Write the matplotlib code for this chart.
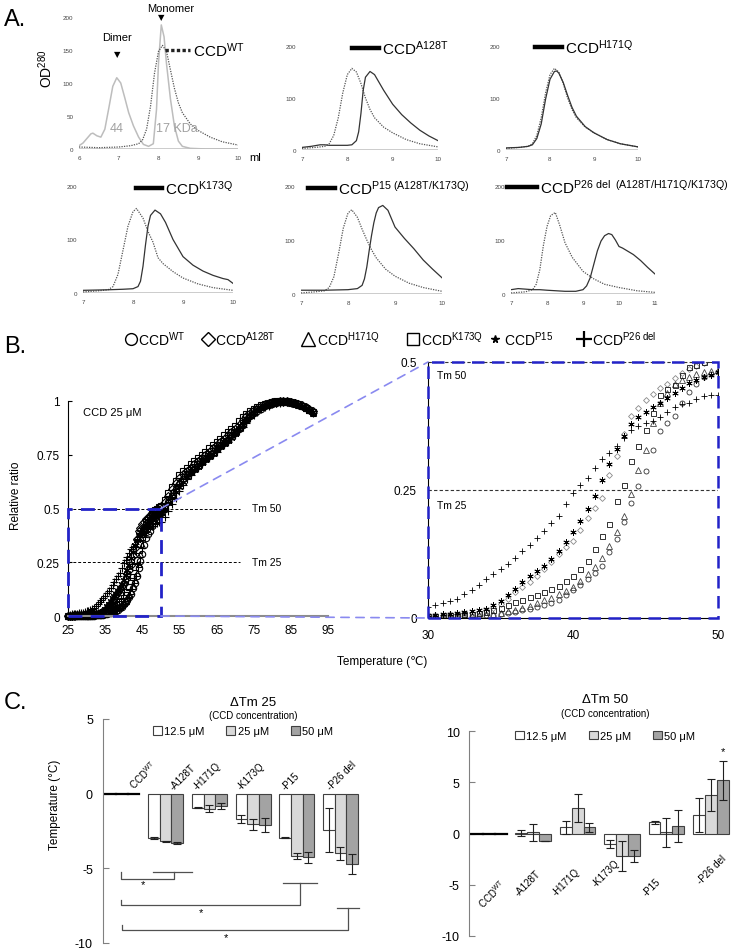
import matplotlib
matplotlib.use("Agg")
import matplotlib.pyplot as plt
from matplotlib.lines import Line2D
from matplotlib.patches import Rectangle, Patch, ConnectionPatch

plt.rcParams["font.family"] = ["Liberation Sans", "DejaVu Sans"]
plt.rcParams["mathtext.fontset"] = "custom"
plt.rcParams["mathtext.rm"] = "Liberation Sans"
plt.rcParams["mathtext.it"] = "Liberation Sans:italic"
plt.rcParams["mathtext.bf"] = "Liberation Sans:bold"
plt.rcParams["axes.unicode_minus"] = False

# ---------------- A. size exclusion profiles (ml, OD280) ----------------
std_x = [6.0, 6.1, 6.2, 6.3, 6.35, 6.45, 6.55, 6.65, 6.75, 6.85, 6.95, 7.05, 7.15, 7.25, 7.37, 7.5, 7.62,
         7.75, 7.87, 7.95, 8.0, 8.07, 8.14, 8.2, 8.3, 8.4, 8.5, 8.6, 8.8, 9.2, 10.0]
std_y = [5, 9, 16, 23, 24, 20, 18, 30, 62, 95, 108, 100, 78, 55, 35, 18, 7,
         4, 8, 60, 130, 188, 170, 130, 76, 35, 12, 4, 1, 0, 0]
wt0_x = [6.0, 6.5, 7.0, 7.3, 7.5, 7.6, 7.7, 7.8, 7.9, 8.0, 8.1, 8.2, 8.3, 8.4, 8.5, 8.6, 8.8, 9.0, 9.3, 9.6, 10.0]
wt0_y = [3, 2, 3, 5, 8, 14, 30, 65, 115, 148, 157, 148, 120, 92, 70, 55, 38, 28, 18, 11, 6]

wt1_x = [7.0, 7.3, 7.5, 7.6, 7.7, 7.8, 7.9, 8.0, 8.1, 8.2, 8.3, 8.4, 8.5, 8.6, 8.8, 9.0, 9.3, 9.6, 10.0]
wt1_y = [3, 5, 7, 12, 28, 62, 110, 145, 157, 150, 128, 100, 78, 62, 44, 33, 20, 12, 6]
a128t_x = [7.0, 7.2, 7.4, 7.5, 7.6, 7.8, 8.0, 8.1, 8.2, 8.25, 8.3, 8.35, 8.4, 8.5, 8.6, 8.7, 8.8, 9.0,
           9.2, 9.4, 9.6, 9.8, 10.0]
a128t_y = [5, 7, 10, 10, 9, 9, 9, 10, 18, 35, 70, 115, 140, 151, 145, 130, 115, 88, 68, 52, 38, 27, 18]

wt2_x = wt1_x
wt2_y = [3, 5, 7, 12, 28, 62, 110, 145, 157, 150, 128, 100, 78, 62, 44, 33, 20, 12, 6]
h171q_x = [7.0, 7.3, 7.5, 7.6, 7.7, 7.8, 7.9, 8.0, 8.1, 8.15, 8.2, 8.3, 8.4, 8.5, 8.6, 8.8, 9.0, 9.3, 9.6, 10.0]
h171q_y = [4, 5, 7, 10, 22, 50, 98, 136, 151, 152, 148, 130, 105, 82, 65, 45, 33, 20, 12, 6]

wt3_x = [7.0, 7.3, 7.5, 7.6, 7.7, 7.8, 7.9, 8.0, 8.07, 8.2, 8.3, 8.4, 8.5, 8.6, 8.8, 9.0, 9.3, 9.6, 10.0]
wt3_y = [2, 4, 6, 12, 35, 80, 125, 152, 158, 140, 115, 95, 66, 55, 40, 28, 17, 10, 5]
k173q_x = [7.0, 7.5, 7.8, 8.0, 8.1, 8.15, 8.2, 8.25, 8.3, 8.35, 8.44, 8.55, 8.65, 8.8, 9.0, 9.2, 9.4,
           9.6, 9.8, 9.9, 10.0]
k173q_y = [5, 6, 7, 8, 12, 22, 50, 90, 125, 145, 155, 148, 132, 100, 68, 52, 41, 33, 27, 25, 18]

wt4_x = [7.0, 7.3, 7.5, 7.6, 7.7, 7.8, 7.9, 8.0, 8.08, 8.2, 8.3, 8.4, 8.5, 8.6, 8.8, 9.0, 9.3, 9.6, 10.0]
wt4_y = [2, 4, 6, 12, 32, 75, 122, 150, 156, 142, 120, 100, 82, 67, 46, 33, 20, 12, 5]
p15_x = [7.0, 7.5, 8.0, 8.2, 8.3, 8.35, 8.4, 8.45, 8.5, 8.55, 8.6, 8.65, 8.74, 8.85, 9.0, 9.2, 9.4,
         9.6, 9.8, 10.0]
p15_y = [7, 7, 8, 10, 16, 28, 50, 80, 108, 132, 150, 160, 164, 155, 124, 103, 84, 63, 46, 30]

wt5_x = [7.0, 7.4, 7.6, 7.7, 7.8, 7.9, 8.0, 8.1, 8.23, 8.35, 8.5, 8.7, 9.0, 9.3, 9.6, 10.0, 10.5, 11.0]
wt5_y = [2, 4, 8, 18, 45, 90, 125, 145, 151, 128, 95, 68, 42, 28, 18, 12, 6, 3]
p26_x = [7.0, 7.2, 7.4, 7.6, 7.8, 8.0, 8.5, 8.8, 9.0, 9.1, 9.2, 9.3, 9.4, 9.5, 9.6, 9.71, 9.8, 9.9,
         10.0, 10.1, 10.2, 10.4, 10.6, 10.8, 11.0]
p26_y = [8, 10, 9, 8, 8, 7, 5, 5, 8, 15, 30, 55, 80, 98, 108, 112, 110, 100, 88, 85, 81, 73, 62, 49, 37]

# ---------------- B. thermal unfolding (relative ratio) ----------------
temp = [25.0, 25.5, 26.0, 26.5, 27.0, 27.5, 28.0, 28.5, 29.0, 29.5,
        30.0, 30.5, 31.0, 31.5, 32.0, 32.5, 33.0, 33.5, 34.0, 34.5,
        35.0, 35.5, 36.0, 36.5, 37.0, 37.5, 38.0, 38.5, 39.0, 39.5,
        40.0, 40.5, 41.0, 41.5, 42.0, 42.5, 43.0, 43.5, 44.0, 44.5,
        45.0, 45.5, 46.0, 46.5, 47.0, 47.5, 48.0, 48.5, 49.0, 49.5, 50.0,
        51, 52, 53, 54, 55, 56, 57, 58, 59, 60, 61, 62, 63, 64, 65, 66, 67, 68, 69, 70,
        71, 72, 73, 74, 75, 76, 77, 78, 79, 80, 81, 82, 83, 84, 85, 86, 87, 88, 89, 90, 91]
ratio_wt = [0.001, 0.001, 0.002, 0.002, 0.002, 0.002, 0.002, 0.002, 0.002, 0.002,
            0.002, 0.002, 0.002, 0.002, 0.002, 0.003, 0.003, 0.004, 0.005, 0.006,
            0.008, 0.010, 0.012, 0.015, 0.018, 0.021, 0.025, 0.030, 0.036, 0.044,
            0.054, 0.064, 0.076, 0.088, 0.102, 0.128, 0.154, 0.187, 0.225, 0.258,
            0.287, 0.329, 0.365, 0.380, 0.394, 0.420, 0.442, 0.458, 0.471, 0.476, 0.480,
            0.50, 0.53, 0.56, 0.59, 0.615, 0.635, 0.655, 0.67, 0.685, 0.70,
            0.715, 0.73, 0.745, 0.76, 0.775, 0.79, 0.805, 0.82, 0.835, 0.85,
            0.87, 0.89, 0.91, 0.93, 0.945, 0.955, 0.965, 0.975, 0.982, 0.988,
            0.992, 0.995, 0.997, 0.997, 0.995, 0.99, 0.985, 0.978, 0.97, 0.96, 0.95]
ratio_a128t = [0.002, 0.002, 0.002, 0.003, 0.003, 0.003, 0.003, 0.004, 0.004, 0.004,
               0.005, 0.005, 0.006, 0.007, 0.008, 0.009, 0.010, 0.012, 0.015, 0.020,
               0.028, 0.038, 0.050, 0.060, 0.070, 0.083, 0.096, 0.110, 0.125, 0.138,
               0.151, 0.172, 0.196, 0.215, 0.235, 0.280, 0.316, 0.360, 0.394, 0.410,
               0.426, 0.438, 0.449, 0.458, 0.468, 0.478, 0.487, 0.493, 0.498, 0.505, 0.510,
               0.53, 0.56, 0.59, 0.62, 0.64, 0.66, 0.675, 0.69, 0.705, 0.72,
               0.735, 0.75, 0.765, 0.78, 0.795, 0.81, 0.825, 0.84, 0.855, 0.87,
               0.89, 0.91, 0.93, 0.945, 0.958, 0.968, 0.977, 0.984, 0.99, 0.994,
               0.997, 0.999, 1.0, 0.999, 0.996, 0.992, 0.987, 0.98, 0.972, 0.962, 0.952]
ratio_h171q = [0.001, 0.001, 0.001, 0.001, 0.001, 0.001, 0.002, 0.002, 0.002, 0.002,
               0.002, 0.002, 0.002, 0.002, 0.003, 0.003, 0.004, 0.005, 0.006, 0.008,
               0.010, 0.013, 0.016, 0.020, 0.024, 0.029, 0.035, 0.040, 0.046, 0.053,
               0.060, 0.072, 0.086, 0.100, 0.118, 0.141, 0.167, 0.200, 0.242, 0.290,
               0.329, 0.381, 0.420, 0.440, 0.458, 0.465, 0.471, 0.476, 0.480, 0.482, 0.485,
               0.51, 0.54, 0.575, 0.605, 0.63, 0.65, 0.665, 0.68, 0.695, 0.71,
               0.725, 0.74, 0.755, 0.77, 0.785, 0.80, 0.815, 0.83, 0.845, 0.86,
               0.88, 0.90, 0.92, 0.94, 0.952, 0.962, 0.972, 0.98, 0.986, 0.991,
               0.994, 0.996, 0.997, 0.996, 0.993, 0.988, 0.982, 0.975, 0.966, 0.956, 0.945]
ratio_k173q = [0.002, 0.002, 0.002, 0.002, 0.003, 0.003, 0.003, 0.003, 0.003, 0.003,
               0.003, 0.004, 0.005, 0.005, 0.006, 0.007, 0.008, 0.010, 0.012, 0.015,
               0.020, 0.025, 0.031, 0.036, 0.041, 0.045, 0.050, 0.056, 0.063, 0.072,
               0.083, 0.096, 0.112, 0.135, 0.161, 0.183, 0.228, 0.259, 0.306, 0.335,
               0.368, 0.400, 0.436, 0.447, 0.455, 0.475, 0.490, 0.495, 0.500, 0.505, 0.510,
               0.54, 0.57, 0.60, 0.63, 0.655, 0.675, 0.69, 0.705, 0.72, 0.735,
               0.75, 0.765, 0.78, 0.795, 0.81, 0.825, 0.84, 0.855, 0.87, 0.885,
               0.905, 0.925, 0.94, 0.955, 0.965, 0.974, 0.981, 0.987, 0.992, 0.995,
               0.998, 1.0, 1.0, 0.998, 0.995, 0.99, 0.984, 0.977, 0.968, 0.958, 0.948]
ratio_p15 = [0.001, 0.001, 0.002, 0.002, 0.002, 0.003, 0.003, 0.003, 0.004, 0.004,
             0.005, 0.006, 0.007, 0.008, 0.010, 0.012, 0.014, 0.016, 0.018, 0.025,
             0.033, 0.045, 0.057, 0.070, 0.083, 0.092, 0.102, 0.116, 0.131, 0.148,
             0.167, 0.190, 0.212, 0.238, 0.270, 0.300, 0.330, 0.355, 0.378, 0.392,
             0.403, 0.412, 0.420, 0.430, 0.440, 0.450, 0.459, 0.465, 0.470, 0.475, 0.480,
             0.50, 0.525, 0.55, 0.575, 0.60, 0.625, 0.645, 0.665, 0.68, 0.695,
             0.71, 0.725, 0.74, 0.755, 0.77, 0.785, 0.80, 0.815, 0.83, 0.848,
             0.868, 0.888, 0.908, 0.928, 0.944, 0.956, 0.966, 0.975, 0.983, 0.989,
             0.993, 0.996, 0.997, 0.996, 0.994, 0.99, 0.984, 0.977, 0.969, 0.96, 0.95]
ratio_p26 = [0.005, 0.006, 0.007, 0.008, 0.009, 0.010, 0.012, 0.014, 0.016, 0.018,
             0.021, 0.025, 0.029, 0.033, 0.038, 0.046, 0.055, 0.065, 0.076, 0.085,
             0.095, 0.106, 0.118, 0.130, 0.143, 0.156, 0.170, 0.185, 0.200, 0.222,
             0.245, 0.260, 0.274, 0.292, 0.310, 0.322, 0.335, 0.352, 0.368, 0.375,
             0.381, 0.385, 0.392, 0.403, 0.413, 0.417, 0.420, 0.427, 0.433, 0.435, 0.436,
             0.46, 0.49, 0.52, 0.55, 0.58, 0.61, 0.635, 0.655, 0.675, 0.69,
             0.705, 0.72, 0.735, 0.75, 0.765, 0.78, 0.795, 0.81, 0.825, 0.84,
             0.86, 0.88, 0.90, 0.92, 0.937, 0.95, 0.961, 0.97, 0.978, 0.985,
             0.99, 0.993, 0.995, 0.995, 0.993, 0.989, 0.983, 0.976, 0.967, 0.957, 0.946]

# ---------------- C. delta Tm bars ----------------
groups = ["CCD$^{\\mathrm{WT}}$", "-A128T", "-H171Q", "-K173Q", "-P15", "-P26 del"]
conc_labels = ["12.5 μM", "25 μM", "50 μM"]
tm25 = [[0, -2.96, -0.95, -1.68, -2.96, -2.46],
        [0, -3.20, -1.00, -2.06, -4.16, -3.98],
        [0, -3.32, -0.80, -2.10, -4.27, -4.71]]
tm25_err = [[0, 0.08, 0.04, 0.27, 0.03, 1.47],
            [0, 0.05, 0.25, 0.35, 0.22, 0.44],
            [0, 0.05, 0.20, 0.50, 0.35, 0.69]]
tm50 = [[0, 0.05, 0.6, -1.0, 1.1, 1.8],
        [0, 0.1, 2.5, -2.2, 0.1, 3.8],
        [0, -0.75, 0.6, -2.2, 0.75, 5.2]]
tm50_err = [[0, 0.3, 0.6, 0.4, 0.15, 1.7],
            [0, 0.8, 1.4, 1.5, 1.4, 1.55],
            [0, 0.0, 0.45, 0.55, 1.55, 1.88]]

W, H = 738, 953
fig = plt.figure(figsize=(W / 100, H / 100), dpi=100)


def box(x0, x1, ytop, ybot):
    return fig.add_axes([x0 / W, 1 - ybot / H, (x1 - x0) / W, (ybot - ytop) / H])


def ftext(x, y, s, **kw):
    fig.text(x / W, 1 - y / H, s, **kw)


def fline(x0, x1, y, **kw):
    fig.add_artist(Line2D([x0 / W, x1 / W], [1 - y / H, 1 - y / H], transform=fig.transFigure, **kw))


def fmark(x, y, **kw):
    fig.add_artist(Line2D([x / W], [1 - y / H], transform=fig.transFigure, ls="none", **kw))


# ---- panel A ----
def sec_axes(bx, xlim, yticks):
    ax = box(*bx)
    ax.set_xlim(xlim)
    ax.set_ylim(0, 200)
    for s in ax.spines.values():
        s.set_visible(False)
    ax.axhline(0, color="#c8c8c8", lw=1.3, zorder=0)
    ax.set_xticks(range(xlim[0], xlim[1] + 1))
    ax.set_yticks(yticks)
    ax.tick_params(length=0, labelsize=4.5, labelcolor="#444", pad=4)
    return ax


dot = dict(color="#555555", lw=0.9, ls=(0, (1, 1)))
sol = dict(color="#333333", lw=0.9)

ax = sec_axes((79, 238, 18, 150), (6, 10), [0, 50, 100, 150, 200])
ax.plot(std_x, std_y, color="#bdbdbd", lw=1.1)
ax.plot(wt0_x, wt0_y, **dot)
ax.text(6.95, 145, "▼", family="DejaVu Sans", fontsize=6, ha="center", va="center")
ax.text(6.95, 170, "Dimer", fontsize=8, ha="center", va="center")
ax.text(8.07, 201, "▼", family="DejaVu Sans", fontsize=6, ha="center", va="center")
ax.text(8.3, 213, "Monomer", fontsize=8, ha="center", va="center")
ax.text(6.95, 32, "44", fontsize=9, color="#a0a0a0", ha="center", va="center")
ax.text(8.45, 32, "17 KDa", fontsize=9, color="#a0a0a0", ha="center", va="center")
ftext(249, 158, "ml", fontsize=8, ha="left", va="center")
ftext(46, 69, "OD$^{\\mathrm{280}}$", fontsize=10, rotation=90, ha="center", va="center")
fline(165, 190, 51, color="#222", lw=2.4, ls=(0, (1, 0.7)))
ftext(193, 51, "CCD$^{\\mathrm{WT}}$", fontsize=11, va="center")

panels = [((302, 438, 47, 151), (7, 10), wt1_x, wt1_y, a128t_x, a128t_y, (352, 379, 49), "A128T"),
          ((506, 638, 47, 151), (7, 10), wt2_x, wt2_y, h171q_x, h171q_y, (535, 562, 48), "H171Q"),
          ((83, 233, 187, 294), (7, 10), wt3_x, wt3_y, k173q_x, k173q_y, (136, 162, 189), "K173Q"),
          ((301, 442, 187, 295), (7, 10), wt4_x, wt4_y, p15_x, p15_y, (308, 335, 189),
           "P15\\ (A128T/K173Q)"),
          ((511, 655, 187, 295), (7, 11), wt5_x, wt5_y, p26_x, p26_y, (507, 537, 188),
           "P26\\ del\\ \\ (A128T/H171Q/K173Q)")]
for bx, xl, wx, wy, mx, my, tb, name in panels:
    ax = sec_axes(bx, xl, [0, 100, 200])
    ax.plot(wx, wy, **dot)
    ax.plot(mx, my, **sol)
    fline(tb[0], tb[1], tb[2], color="black", lw=3.2)
    ftext(tb[1] + 3, tb[2], "CCD$^{\\mathrm{" + name + "}}$", fontsize=11, va="center")

ftext(4, 20, "A.", fontsize=17, va="center")

# ---- panel B ----
ftext(4, 347, "B.", fontsize=17, va="center")
leg_items = [(131, "o", 8.5, "CCD$^{\\mathrm{WT}}$", 138),
             (208, "D", 7, "CCD$^{\\mathrm{A128T}}$", 215),
             (308, "^", 10, "CCD$^{\\mathrm{H171Q}}$", 317),
             (413, "s", 8.5, "CCD$^{\\mathrm{K173Q}}$", 421),
             (495, "*", 5.5, "CCD$^{\\mathrm{P15}}$", 504),
             (584, "+", 11, "CCD$^{\\mathrm{P26\\ del}}$", 592)]
for mx_, mk, ms, lab, tx in leg_items:
    filled = mk == "*"
    fmark(mx_, 340, marker=mk, ms=ms, mfc="black" if filled else "none", mec="black",
          mew=1.0 if mk != "+" else 1.6)
    ftext(tx, 340, lab, fontsize=10, va="center")

series = [(ratio_wt, "o", "#333333", 3.6),
          (ratio_a128t, "D", "#8a8a8a", 3.0),
          (ratio_h171q, "^", "#444444", 3.8),
          (ratio_k173q, "s", "#111111", 3.6),
          (ratio_p15, (6, 2, 0), "black", 4.5),
          (ratio_p26, "+", "black", 5.0)]

blue = "#2323c8"
axL = box(68, 328, 402, 617)
for vals, mk, col, ms in series:
    axL.plot(temp, vals, ls="none", marker=mk, ms=ms + 1.0, mfc="none", mec="black", mew=0.8, clip_on=False)
axL.set_xlim(25, 95)
axL.set_ylim(0, 1)
axL.set_xticks(range(25, 96, 10))
axL.set_yticks([0, 0.25, 0.5, 0.75, 1])
axL.set_yticklabels(["0", "0.25", "0.5", "0.75", "1"])
axL.spines[["top", "right"]].set_visible(False)
axL.spines["bottom"].set_color("#8c8c8c")
axL.spines["bottom"].set_linewidth(1.5)
axL.spines["left"].set_linewidth(0.8)
axL.tick_params(axis="y", direction="in", length=3, width=0.8, labelsize=8.5, pad=6)
axL.tick_params(axis="x", length=0, labelsize=8.5, pad=6)
axL.plot([25, 71.3], [0.5, 0.5], color="black", lw=0.7, ls=(0, (3, 2)))
axL.plot([25, 71.3], [0.25, 0.25], color="black", lw=0.7, ls=(0, (3, 2)))
axL.text(74.5, 0.5, "Tm 50", fontsize=7.5, va="center")
axL.text(74.5, 0.25, "Tm 25", fontsize=7.5, va="center")
axL.text(29, 0.95, "CCD 25 μM", fontsize=8, va="center")
axL.add_patch(Rectangle((25, 0), 25, 0.5, fill=False, ec=blue, lw=2, ls=(0, (5, 3)), clip_on=False, zorder=5))
ftext(16, 496, "Relative ratio", fontsize=8.5, rotation=90, ha="center", va="center")

axR = box(428, 718, 363, 619)
for vals, mk, col, ms in series:
    axR.plot(temp, vals, ls="none", marker=mk, ms=ms, mfc="none", mec=col, mew=0.6)
axR.set_xlim(30, 50)
axR.set_ylim(0, 0.5)
axR.set_xticks([30, 40, 50])
axR.set_yticks([0, 0.25, 0.5])
axR.set_yticklabels(["0", "0.25", "0.5"])
axR.spines[["top", "right"]].set_visible(False)
axR.tick_params(axis="both", length=0, labelsize=8.5, pad=8)
axR.plot([30, 50], [0.25, 0.25], color="#333", lw=0.8, ls=(0, (3, 2)))
axR.plot([30, 50], [0.5, 0.5], color="#333", lw=0.8, ls=(0, (3, 2)), clip_on=False)
axR.text(30.6, 0.475, "Tm 50", fontsize=7.5, va="center")
axR.text(30.6, 0.22, "Tm 25", fontsize=7.5, va="center")
axR.add_patch(Rectangle((0, 0), 1, 1, transform=axR.transAxes, fill=False, ec=blue, lw=1.8,
                        ls=(0, (5, 3)), clip_on=False, zorder=5))
for ya, yb in [(0.5, 0.5), (0, 0)]:
    cp = ConnectionPatch(xyA=(50, ya), coordsA="data", axesA=axL, xyB=(30, yb), coordsB="data", axesB=axR,
                         color="#8a8af0", lw=1.2, ls=(0, (5, 4)))
    fig.add_artist(cp)
ftext(382, 662, "Temperature (℃)", fontsize=8.5, ha="center", va="center")

# ---- panel C ----
ftext(4, 703, "C.", fontsize=17, va="center")
fills = ["white", "#d9d9d9", "#a3a3a3"]
bw = 0.267


def bar_axes(bx, vals, errs, ylim, yticks):
    ax = box(*bx)
    for k in range(3):
        xs = [i + (k - 1) * bw for i in range(len(groups))]
        for x, v in zip(xs, vals[k]):
            if v == 0:
                ax.plot([x - bw / 2, x + bw / 2], [0, 0], color="black", lw=1.6)
            else:
                ax.bar(x, v, bw, color=fills[k], edgecolor="#404040", lw=0.8)
        ax.errorbar(xs[1:], vals[k][1:], yerr=errs[k][1:], fmt="none", ecolor="#202020",
                    elinewidth=0.8, capsize=2.8, capthick=0.8)
    ax.set_xlim(-0.44, 5.5)
    ax.set_ylim(*ylim)
    ax.set_xticks([])
    ax.set_yticks(yticks)
    ax.set_yticklabels([str(t) for t in yticks])
    for s in ["top", "right", "bottom"]:
        ax.spines[s].set_visible(False)
    ax.spines["left"].set_color("#808080")
    ax.tick_params(axis="y", direction="in", length=4, color="#808080", labelsize=9, pad=7)
    return ax


handles = [Patch(facecolor=f, edgecolor="#404040", lw=0.8, label=l) for f, l in zip(fills, conc_labels)]

axC1 = bar_axes((102.7, 362.3, 720, 944), tm25, tm25_err, (-10, 5), [5, 0, -5, -10])
axC1.legend(handles=handles, ncol=3, loc="center", bbox_to_anchor=(0.54, 0.945), frameon=False,
            fontsize=8, handlelength=0.8, handleheight=0.8, handletextpad=0.2, columnspacing=2.0)
lab_dx = [0.1, 0.05, -0.4, -0.4, -0.38, -0.35]
for i, (g, dx) in enumerate(zip(groups, lab_dx)):
    axC1.text(i + dx, 0.15, g, rotation=45, fontsize=7, ha="left", va="bottom")
brackets = [(-0.03, 1.19, 0.70, 1.61, -5.27, -5.71, -5.22, 0.49, -6.04),
            (-0.03, 4.07, 3.68, 4.46, -7.15, -7.48, -5.97, 1.80, -7.92),
            (0.01, 5.17, 4.91, 5.42, -8.80, -9.14, -7.65, 2.38, -9.62)]
for x0, xv, c0, c1, yt, yl, yc, sx, sy in brackets:
    axC1.plot([x0, x0, xv, xv], [yt, yl, yl, yc], color="#505050", lw=0.9, clip_on=False)
    axC1.plot([c0, c1], [yc, yc], color="#505050", lw=0.9, clip_on=False)
    axC1.text(sx, sy, "*", fontsize=8, ha="center", va="center")
ftext(253, 703, "ΔTm 25", fontsize=9.5, ha="center", va="center")
ftext(253, 716, "(CCD concentration)", fontsize=7, ha="center", va="center")
ftext(55, 805, "Temperature (°C)", fontsize=8.5, rotation=90, ha="center", va="center")

axC2 = bar_axes((469.3, 733, 732.3, 936.7), tm50, tm50_err, (-10, 10), [10, 5, 0, -5, -10])
axC2.legend(handles=handles, ncol=3, loc="center", bbox_to_anchor=(0.515, 0.977), frameon=False,
            fontsize=8, handlelength=0.8, handleheight=0.8, handletextpad=0.2, columnspacing=2.0)
lab_dx2 = [0.07, -0.12, -0.25, -0.37, -0.33, 0.02]
lab_top2 = [-4.2, -3.4, -3.2, -2.3, -4.2, -1.9]
for i, (g, dx, yt) in enumerate(zip(groups, lab_dx2, lab_top2)):
    axC2.text(i + dx, yt, g, rotation=45, fontsize=7, ha="center", va="top")
axC2.text(5 + bw, tm50[2][5] + tm50_err[2][5] + 1.0, "*", fontsize=8, ha="center", va="center")
ftext(605, 700, "ΔTm 50", fontsize=9.5, ha="center", va="center")
ftext(605, 714, "(CCD concentration)", fontsize=7, ha="center", va="center")

fig.savefig("out.png", dpi=100, facecolor="white")
